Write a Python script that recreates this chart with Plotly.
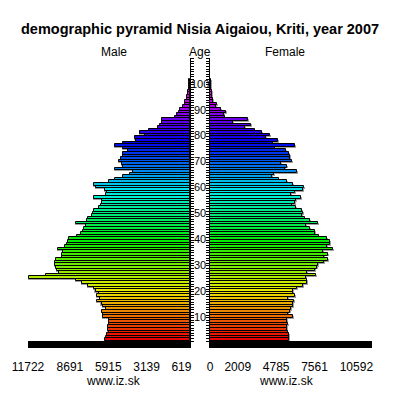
import colorsys
import plotly.graph_objects as go

ages = list(range(101))

male = [6150, 6080, 6010, 5860, 5930, 5930, 5860, 5860, 5860, 6300,
        6300, 6370, 6080, 6300, 6400, 6730, 6510, 6730, 6580, 6830,
        6960, 7360, 7780, 8250, 11650, 10420, 9480, 9620, 9700, 9770,
        9770, 9700, 9260, 9260, 9190, 9550, 9050, 8900, 8830, 8760,
        8180, 7890, 7740, 7670, 7530, 8250, 7450, 7380, 7090, 7020,
        6950, 6580, 6440, 6370, 6370, 6950, 6080, 6010, 6150, 6800,
        6950, 5860, 5430, 4850, 4340, 4120, 5430, 4850, 4920, 5140,
        4990, 4850, 4850, 4490, 4850, 5430, 4850, 3910, 3980, 3260,
        3620, 2970, 2320, 2170, 2030, 2030, 1090, 940, 800, 720,
        510, 360, 360, 220, 220, 150, 150, 70, 70, 40, 40]

female = [5720, 5720, 5720, 5640, 5570, 5570, 5640, 5570, 5570, 6010,
          5640, 5790, 5860, 6010, 6010, 6080, 5640, 6150, 6010, 6010,
          6300, 6730, 7020, 7020, 6950, 7670, 7020, 7600, 7740, 7810,
          8250, 8540, 8250, 8540, 8180, 8900, 8470, 8680, 8680, 8470,
          7890, 7600, 7600, 7240, 6950, 7810, 7240, 6870, 6660, 6730,
          6660, 6220, 5930, 6150, 6220, 6580, 5860, 6150, 6730, 6800,
          6010, 5570, 4990, 4490, 4630, 6300, 5430, 5570, 5140, 5930,
          5790, 5790, 5720, 5500, 4700, 6150, 4560, 4920, 4050, 4340,
          3760, 3260, 2530, 2970, 1660, 2750, 1090, 1010, 1160, 800,
          430, 510, 220, 220, 150, 150, 110, 70, 70, 40, 40]

x_max = 11722
male_ticks = [11722, 8691, 5915, 3139, 619]
female_ticks = [0, 2009, 4785, 7561, 10592]
age_labels = [10, 20, 30, 40, 50, 60, 70, 80, 90, 100]

title = "demographic pyramid Nisia Aigaiou, Kriti, year 2007"
FONT = "Liberation Sans, Arial, sans-serif"


def age_color(a):
    r, g, b = colorsys.hsv_to_rgb(min(a * 3.15, 305) / 360.0, 1.0, 0.92)
    return "rgb(%d,%d,%d)" % (r * 255, g * 255, b * 255)


colors = [age_color(a) for a in ages]
shadow_y = [a - 0.35 for a in ages]
shadow_pad = 90

fig = go.Figure()
fig.add_trace(go.Bar(y=shadow_y, x=[v + shadow_pad for v in male], orientation="h",
                     width=1, marker=dict(color="#a0a0a0", line=dict(width=0)),
                     xaxis="x", yaxis="y", hoverinfo="skip"))
fig.add_trace(go.Bar(y=ages, x=male, orientation="h", width=1,
                     marker=dict(color=colors, line=dict(color="black", width=1)),
                     xaxis="x", yaxis="y"))
fig.add_trace(go.Bar(y=shadow_y, x=[v + shadow_pad for v in female], orientation="h",
                     width=1, marker=dict(color="#a0a0a0", line=dict(width=0)),
                     xaxis="x2", yaxis="y2", hoverinfo="skip"))
fig.add_trace(go.Bar(y=ages, x=female, orientation="h", width=1,
                     marker=dict(color=colors, line=dict(color="black", width=1)),
                     xaxis="x2", yaxis="y2"))

ydom = [0.1475, 0.855]
yrange = [-0.5, 108.8]
common_x = dict(showline=True, linewidth=7, linecolor="black", ticks="",
                showgrid=False, zeroline=False, fixedrange=True, automargin=False,
                ticklabelstandoff=9,
                tickfont=dict(size=12, color="black", family=FONT))
common_y = dict(domain=ydom, range=yrange, showline=True, linewidth=1, linecolor="black",
                ticks="outside", ticklen=3, tickwidth=1, tickcolor="black",
                tick0=-0.5, dtick=1, showticklabels=False, showgrid=False,
                zeroline=False, fixedrange=True, automargin=False)

fig.update_layout(
    width=400, height=400,
    margin=dict(l=0, r=0, t=0, b=0, autoexpand=False),
    paper_bgcolor="white", plot_bgcolor="white",
    showlegend=False, barmode="overlay", bargap=0,
    font=dict(family=FONT, color="black"),
    xaxis=dict(domain=[0.07, 0.475], range=[x_max, 0], anchor="y",
               tickmode="array", tickvals=male_ticks,
               ticktext=[str(t) for t in male_ticks], **common_x),
    xaxis2=dict(domain=[0.525, 0.93], range=[0, x_max], anchor="y2",
                tickmode="array", tickvals=female_ticks,
                ticktext=[str(t) for t in female_ticks], **common_x),
    yaxis=dict(anchor="x", side="right", **common_y),
    yaxis2=dict(anchor="x2", side="left", matches="y", **common_y),
)

annotations = [
    dict(text="<b>" + title + "</b>", x=200, y=29, size=14.5),
    dict(text="Male", x=114, y=52, size=12),
    dict(text="Age", x=200, y=52, size=12),
    dict(text="Female", x=285, y=52, size=12),
    dict(text="www.iz.sk", x=114, y=381, size=12),
    dict(text="www.iz.sk", x=286, y=381, size=12),
]
anns = []
for ann in annotations:
    anns.append(dict(text=ann["text"], x=ann["x"] / 400.0, y=1 - ann["y"] / 400.0,
                     xref="paper", yref="paper", showarrow=False,
                     xanchor="center", yanchor="middle",
                     font=dict(size=ann["size"], color="black", family=FONT)))
for a in age_labels:
    anns.append(dict(text=str(a), x=0.5, y=a - 1.1, xref="paper", yref="y",
                     showarrow=False, xanchor="center", yanchor="middle",
                     font=dict(size=11, color="black", family=FONT)))
fig.update_layout(annotations=anns)

fig.write_html("out.html")
